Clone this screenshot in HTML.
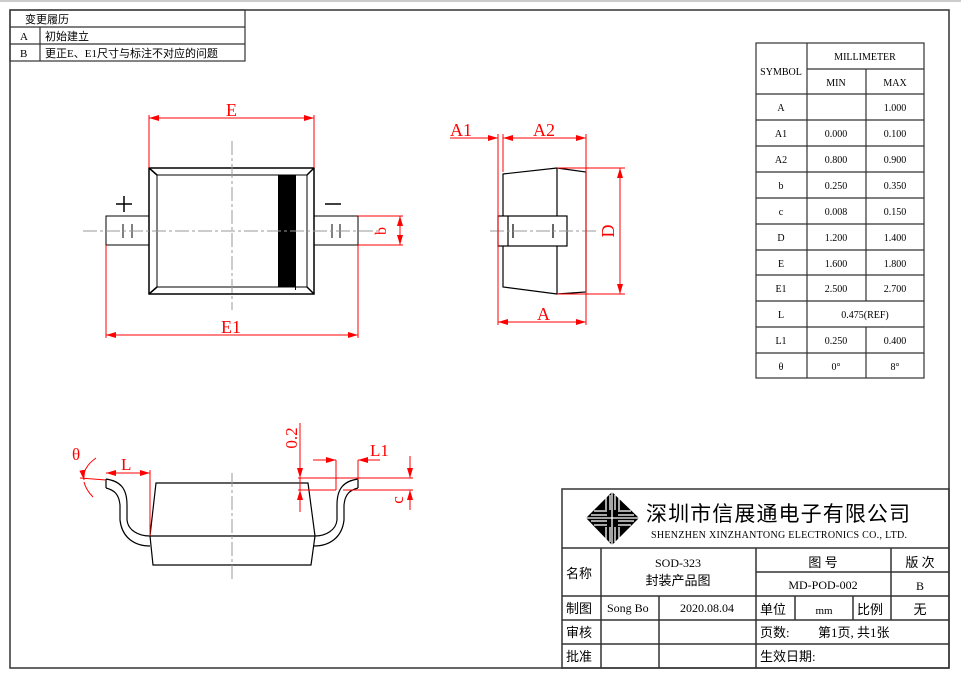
<!DOCTYPE html>
<html><head><meta charset="utf-8"><style>
html,body{margin:0;padding:0;background:#fff}
svg{display:block}
text{font-family:"Liberation Serif","Noto Serif CJK SC",serif}
.c{font-family:"Liberation Serif","Noto Sans CJK SC",serif}
</style></head><body>
<svg width="961" height="679" viewBox="0 0 961 679" xmlns="http://www.w3.org/2000/svg">
<defs>
<marker id="a" viewBox="0 0 10 6" refX="10" refY="3" markerWidth="10" markerHeight="6" orient="auto-start-reverse" markerUnits="userSpaceOnUse"><path d="M0,0L10,3L0,6Z" fill="red"/></marker>
</defs>
<rect x="0" y="0" width="961" height="679" fill="#fff"/>
<line x1="0" y1="1" x2="961" y2="1" stroke="#999"/>
<rect x="10" y="10" width="939" height="658" fill="none" stroke="#333" stroke-width="1.5"/>
<!-- revision table -->
<g stroke="#333" stroke-width="1.2" fill="none">
<rect x="10" y="10" width="235" height="51"/>
<line x1="10" y1="27" x2="245" y2="27"/><line x1="10" y1="44" x2="245" y2="44"/>
<line x1="40" y1="27" x2="40" y2="61"/>
</g>
<g font-size="11" class="c" fill="#000">
<text x="25" y="23" class="c">变更履历</text>
<text x="20" y="40">A</text><text x="45" y="40" class="c">初始建立</text>
<text x="20" y="57">B</text><text x="45" y="57" class="c">更正E、E1尺寸与标注不对应的问题</text>
</g>
<!-- top view -->
<g stroke="#000" stroke-width="1.5" fill="none">
<rect x="149" y="168" width="165" height="126"/>
<rect x="157" y="175" width="150" height="112" stroke-width="1"/>
<line x1="149" y1="168" x2="157" y2="175"/><line x1="314" y1="168" x2="307" y2="175"/>
<line x1="149" y1="294" x2="157" y2="287"/><line x1="314" y1="294" x2="307" y2="287"/>
<rect x="106" y="216" width="43" height="29" stroke-width="1"/>
<rect x="314" y="216" width="44" height="29" stroke-width="1"/>
<line x1="123" y1="224" x2="123" y2="238" stroke-width="1"/><line x1="132" y1="224" x2="132" y2="238" stroke-width="1"/>
<line x1="332" y1="224" x2="332" y2="238" stroke-width="1"/><line x1="340" y1="224" x2="340" y2="238" stroke-width="1"/>
<line x1="295.5" y1="175" x2="295.5" y2="290" stroke-width="1"/>
<line x1="116" y1="204" x2="132" y2="204"/><line x1="124" y1="196" x2="124" y2="212"/>
<line x1="325" y1="204" x2="341" y2="204"/>
</g>
<rect x="278" y="175" width="17" height="112" fill="#000"/>
<g stroke="#999" stroke-width="1" stroke-dasharray="14,3,3,3">
<line x1="83" y1="231" x2="378" y2="231"/>
<line x1="232" y1="141" x2="232" y2="310"/>
</g>
<g stroke="red" stroke-width="1" fill="none">
<line x1="149" y1="115" x2="149" y2="168"/><line x1="314" y1="115" x2="314" y2="168"/>
<line x1="149" y1="118" x2="314" y2="118" marker-start="url(#a)" marker-end="url(#a)"/>
<line x1="106" y1="245" x2="106" y2="338"/><line x1="358" y1="245" x2="358" y2="338"/>
<line x1="106" y1="335" x2="358" y2="335" marker-start="url(#a)" marker-end="url(#a)"/>
<line x1="358" y1="216" x2="403" y2="216"/><line x1="358" y1="245" x2="403" y2="245"/>
<line x1="400" y1="216" x2="400" y2="245" marker-start="url(#a)" marker-end="url(#a)"/>
</g>
<g fill="red" font-size="18">
<text x="226" y="116">E</text>
<text x="221" y="333">E1</text>
<text x="0" y="0" transform="translate(386,231) rotate(-90)" text-anchor="middle" font-size="16">b</text>
</g>
<!-- side view -->
<g stroke="#000" stroke-width="1.2" fill="none">
<path d="M503,174 L557,168 L586,172 L586,292 L557,294 L503,287 Z"/>
<line x1="557" y1="168" x2="557" y2="294"/>
<rect x="498" y="216" width="69" height="30" fill="#fff"/>
<line x1="508" y1="216" x2="508" y2="246"/>
<line x1="513" y1="224" x2="513" y2="238"/><line x1="553" y1="224" x2="553" y2="238"/>
</g>
<line x1="490" y1="231" x2="596" y2="231" stroke="#999" stroke-dasharray="14,3,3,3"/>
<g stroke="red" stroke-width="1" fill="none">
<line x1="498" y1="134" x2="498" y2="325"/><line x1="503" y1="134" x2="503" y2="172"/><line x1="586" y1="134" x2="586" y2="325"/>
<line x1="450" y1="138" x2="498" y2="138" marker-end="url(#a)"/>
<line x1="503" y1="138" x2="586" y2="138" marker-start="url(#a)" marker-end="url(#a)"/>
<line x1="498" y1="322" x2="586" y2="322" marker-start="url(#a)" marker-end="url(#a)"/>
<line x1="557" y1="168" x2="625" y2="168"/><line x1="557" y1="294" x2="625" y2="294"/>
<line x1="620" y1="168" x2="620" y2="294" marker-start="url(#a)" marker-end="url(#a)"/>
</g>
<g fill="red" font-size="18">
<text x="450" y="136">A1</text>
<text x="533" y="136">A2</text>
<text x="537" y="320">A</text>
<text transform="translate(614,231) rotate(-90)" text-anchor="middle">D</text>
</g>
<!-- symbol table -->
<g stroke="#333" stroke-width="1.2" fill="none">
<rect x="756" y="43" width="168" height="335"/>
<line x1="807" y1="43" x2="807" y2="378"/>
<line x1="866" y1="69" x2="866" y2="301"/><line x1="866" y1="327" x2="866" y2="378"/>
<line x1="807" y1="69" x2="924" y2="69"/>
<line x1="756" y1="94" x2="924" y2="94"/><line x1="756" y1="120" x2="924" y2="120"/>
<line x1="756" y1="146" x2="924" y2="146"/><line x1="756" y1="172" x2="924" y2="172"/>
<line x1="756" y1="198" x2="924" y2="198"/><line x1="756" y1="224" x2="924" y2="224"/>
<line x1="756" y1="250" x2="924" y2="250"/><line x1="756" y1="275" x2="924" y2="275"/>
<line x1="756" y1="301" x2="924" y2="301"/><line x1="756" y1="327" x2="924" y2="327"/>
<line x1="756" y1="353" x2="924" y2="353"/>
</g>
<g font-size="10" text-anchor="middle" fill="#000">
<text x="781" y="75">SYMBOL</text><text x="865" y="60">MILLIMETER</text>
<text x="836" y="86">MIN</text><text x="895" y="86">MAX</text>
<text x="781" y="111">A</text><text x="895" y="111">1.000</text>
<text x="781" y="137">A1</text><text x="836" y="137">0.000</text><text x="895" y="137">0.100</text>
<text x="781" y="163">A2</text><text x="836" y="163">0.800</text><text x="895" y="163">0.900</text>
<text x="781" y="189">b</text><text x="836" y="189">0.250</text><text x="895" y="189">0.350</text>
<text x="781" y="215">c</text><text x="836" y="215">0.008</text><text x="895" y="215">0.150</text>
<text x="781" y="241">D</text><text x="836" y="241">1.200</text><text x="895" y="241">1.400</text>
<text x="781" y="267">E</text><text x="836" y="267">1.600</text><text x="895" y="267">1.800</text>
<text x="781" y="292">E1</text><text x="836" y="292">2.500</text><text x="895" y="292">2.700</text>
<text x="781" y="318">L</text><text x="865" y="318">0.475(REF)</text>
<text x="781" y="344">L1</text><text x="836" y="344">0.250</text><text x="895" y="344">0.400</text>
<text x="781" y="370">θ</text><text x="836" y="370">0°</text><text x="895" y="370">8°</text>
</g>
<!-- bottom view -->
<g stroke="#000" stroke-width="1.2" fill="none">
<path d="M156,483 L308,483 L315,536 L311,565 L153,565 L150,536 Z"/>
<line x1="150" y1="536" x2="315" y2="536"/>
<path d="M106,479 C120,481 127,488 127,505 L127,520 C128,530 138,536 150,536"/>
<path d="M106,488 C114,490 119,494 120,505 L120,520 C122,538 135,546 150,546"/>
<line x1="106" y1="479" x2="106" y2="488"/>
<path d="M358,479 C344,481 337,488 337,505 L337,520 C336,530 326,536 315,536"/>
<path d="M358,488 C350,490 345,494 344,505 L344,520 C342,538 329,546 314,546"/>
<line x1="358" y1="479" x2="358" y2="488"/>
</g>
<line x1="232" y1="473" x2="232" y2="580" stroke="#999" stroke-dasharray="14,3,3,3"/>
<g stroke="red" stroke-width="1" fill="none">
<line x1="150" y1="470" x2="150" y2="536"/>
<line x1="106" y1="473" x2="150" y2="473" marker-start="url(#a)" marker-end="url(#a)"/>
<line x1="80" y1="478" x2="106" y2="480"/>
<path d="M96,458 Q82,468 84,480" marker-end="url(#a)"/>
<path d="M84,482 Q86,490 93,497"/>
<line x1="300" y1="423" x2="300" y2="512"/>
<line x1="300" y1="455" x2="300" y2="478" marker-end="url(#a)"/>
<line x1="298" y1="478" x2="413" y2="478"/>
<line x1="298" y1="490" x2="336" y2="490"/>
<line x1="343" y1="490" x2="413" y2="490"/>
<line x1="300" y1="505" x2="300" y2="490" marker-end="url(#a)"/>
<line x1="336" y1="460" x2="336" y2="490"/>
<line x1="358" y1="460" x2="358" y2="480"/>
<line x1="313" y1="460" x2="336" y2="460" marker-end="url(#a)"/>
<line x1="380" y1="460" x2="358" y2="460" marker-end="url(#a)"/>
<line x1="410" y1="456" x2="410" y2="478" marker-end="url(#a)"/>
<line x1="410" y1="510" x2="410" y2="490" marker-end="url(#a)"/>
</g>
<g fill="red" font-size="17">
<text x="72" y="460">θ</text>
<text x="121" y="470">L</text>
<text x="370" y="456">L1</text>
<text transform="translate(297,438) rotate(-90)" text-anchor="middle">0.2</text>
<text transform="translate(403,500) rotate(-90)" text-anchor="middle">c</text>
</g>
<!-- title block -->
<g stroke="#333" stroke-width="1.5" fill="none">
<rect x="562" y="489" width="387" height="179"/>
<line x1="562" y1="548" x2="949" y2="548"/>
<line x1="756" y1="572" x2="949" y2="572"/>
<line x1="562" y1="596" x2="949" y2="596"/>
<line x1="562" y1="620" x2="949" y2="620"/>
<line x1="562" y1="644" x2="949" y2="644"/>
<line x1="601" y1="548" x2="601" y2="668"/>
<line x1="659" y1="596" x2="659" y2="668"/>
<line x1="756" y1="548" x2="756" y2="668"/>
<line x1="795" y1="596" x2="795" y2="620"/>
<line x1="853" y1="596" x2="853" y2="620"/>
<line x1="891" y1="548" x2="891" y2="620"/>
</g>
<g>
<path d="M586,518 L612,492 L639,518 L612,545 Z" fill="#000"/>
<g stroke="#fff" stroke-width="1.3">
<line x1="594" y1="511" x2="607" y2="511"/><line x1="591" y1="515" x2="607" y2="515"/><line x1="591" y1="521" x2="607" y2="521"/><line x1="594" y1="525" x2="607" y2="525"/>
<line x1="618" y1="511" x2="631" y2="511"/><line x1="618" y1="515" x2="634" y2="515"/><line x1="618" y1="521" x2="634" y2="521"/><line x1="618" y1="525" x2="631" y2="525"/>
<line x1="606" y1="497" x2="606" y2="510"/><line x1="610" y1="495" x2="610" y2="510"/><line x1="615" y1="495" x2="615" y2="510"/><line x1="619" y1="497" x2="619" y2="510"/>
<line x1="606" y1="527" x2="606" y2="540"/><line x1="610" y1="527" x2="610" y2="542"/><line x1="615" y1="527" x2="615" y2="542"/><line x1="619" y1="527" x2="619" y2="540"/>
<line x1="586" y1="518" x2="639" y2="518"/><line x1="612" y1="492" x2="612" y2="545"/>
</g>
</g>
<text x="646" y="521" font-size="21" class="c" fill="#000" font-family="Noto Sans CJK SC" textLength="264">深圳市信展通电子有限公司</text>
<text x="651" y="538" font-size="10" fill="#000" textLength="256">SHENZHEN XINZHANTONG ELECTRONICS CO., LTD.</text>
<g font-size="13" fill="#000" class="c">
<text x="566" y="578" class="c">名称</text>
<text x="678" y="567" text-anchor="middle" font-size="12">SOD-323</text>
<text x="678" y="585" text-anchor="middle" class="c">封装产品图</text>
<text x="823" y="567" text-anchor="middle" class="c">图 号</text>
<text x="920" y="567" text-anchor="middle" class="c">版 次</text>
<text x="823" y="589" text-anchor="middle" font-size="12">MD-POD-002</text>
<text x="920" y="590" text-anchor="middle" font-size="12">B</text>
<text x="566" y="613" class="c">制图</text>
<text x="607" y="612" font-size="12">Song Bo</text>
<text x="707" y="612" text-anchor="middle" font-size="12">2020.08.04</text>
<text x="760" y="614" class="c">单位</text>
<text x="824" y="614" text-anchor="middle" font-size="11">mm</text>
<text x="857" y="614" class="c">比例</text>
<text x="920" y="614" text-anchor="middle" class="c">无</text>
<text x="566" y="637" class="c">审核</text>
<text x="760" y="637" class="c">页数:</text>
<text x="818" y="637" class="c">第1页, 共1张</text>
<text x="566" y="661" class="c">批准</text>
<text x="760" y="661" class="c">生效日期:</text>
</g>
</svg>
</body></html>
